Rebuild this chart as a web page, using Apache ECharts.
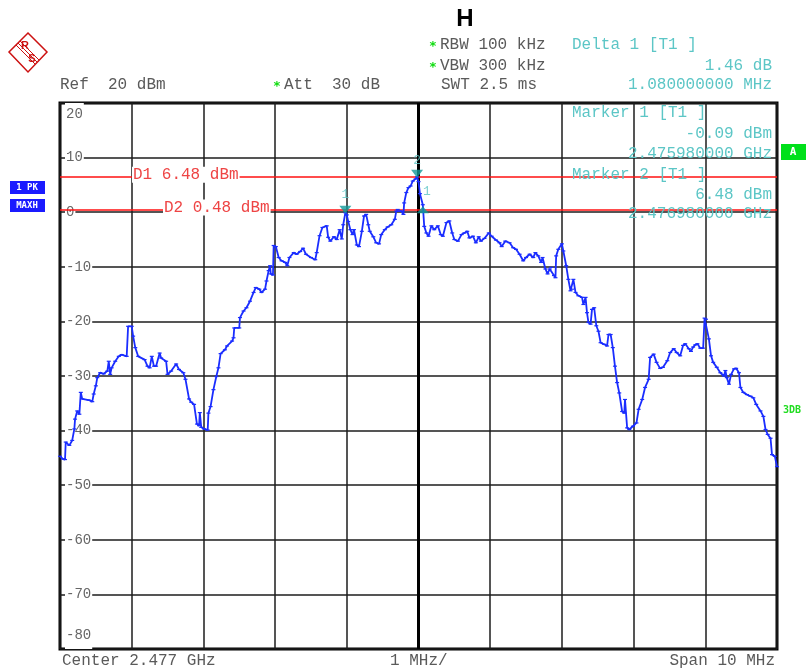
<!DOCTYPE html>
<html><head><meta charset="utf-8">
<script src="https://cdn.jsdelivr.net/npm/echarts@6/dist/echarts.min.js"></script>
<style>html,body{margin:0;padding:0;background:#fff}#c{width:810px;height:669px}</style>
</head><body><div id="c"></div>
<script>
// Frequency offset from centre (MHz), centre 2.477 GHz, span 10 MHz
const freqOffsetMHz = [
-5.00,-4.96,-4.93,-4.92,-4.87,-4.83,-4.80,-4.79,-4.76,-4.73,-4.71,-4.69,-4.60,-4.55,-4.53,-4.50,-4.48,-4.44,-4.39,-4.34,
-4.32,-4.30,-4.28,-4.23,-4.18,-4.14,-4.07,-4.05,-4.00,-3.98,-3.95,-3.91,-3.82,-3.78,-3.75,-3.72,-3.69,-3.66,-3.61,-3.59,
-3.52,-3.50,-3.45,-3.38,-3.34,-3.28,-3.25,-3.20,-3.17,-3.13,-3.09,-3.06,-3.05,-3.03,-2.99,-2.94,
-2.93,-2.90,-2.86,-2.82,-2.79,-2.76,-2.70,-2.67,-2.60,-2.58,-2.57,-2.50,-2.49,-2.44,-2.40,-2.35,-2.30,-2.27,-2.22,-2.19,
-2.14,-2.12,-2.09,-2.07,-2.06,-2.03,-2.02,-1.99,-1.95,-1.91,-1.86,-1.83,-1.80,-1.74,-1.70,-1.65,-1.61,-1.57,-1.50,-1.44,
-1.42,-1.38,-1.34,-1.28,-1.26,
-1.23,-1.18,-1.14,-1.10,-1.07,-1.05,-1.02,-1.00,-0.98,-0.95,-0.92,-0.90,-0.86,-0.83,-0.79,-0.76,-0.73,-0.70,-0.68,-0.63,
-0.59,-0.55,-0.52,-0.47,-0.43,-0.38,-0.33,-0.31,-0.29,-0.24,-0.21,-0.20,-0.17,-0.14,-0.11,-0.08,-0.04,-0.02,0.00,0.02,0.06,
0.08,0.11,0.14,0.18,0.22,0.27,0.31,0.34,0.39,0.43,0.47,0.50,0.55,0.60,0.64,0.68,0.71,0.76,0.80,0.84,
0.87,0.92,0.98,1.02,1.08,1.13,1.16,1.21,1.27,1.32,1.36,1.41,1.46,1.50,1.55,1.60,1.63,1.67,1.71,1.73,
1.77,1.80,1.83,1.85,1.89,
1.91,1.92,1.95,2.00,2.02,2.06,2.09,2.12,2.14,2.16,2.19,2.23,2.28,2.30,2.33,2.35,2.37,2.40,2.42,2.45,
2.48,2.51,2.54,2.59,2.63,2.65,2.68,2.71,2.74,2.77,2.80,2.84,2.87,2.88,2.91,2.94,2.99,
3.04,3.07,3.12,3.16,3.21,3.23,3.28,3.32,3.37,3.41,3.47,3.51,3.56,3.60,3.65,3.69,3.72,3.77,3.80,3.83,
3.86,3.89,3.93,3.97,3.99,4.01,4.05,4.08,4.11,4.16,4.21,4.26,4.28,4.30,4.33,4.36,4.40,4.43,4.47,4.49,
4.53,4.58,4.63,4.67,4.71,4.77,4.81,4.84,4.87,4.91,4.93,4.97,5.00
];
// Trace 1, max hold (dBm)
const levelDbm = [
-44.7,-45.2,-45.3,-42.1,-42.7,-41.8,-39.7,-37.9,-36.4,-37.0,-33.0,-34.2,-34.4,-34.7,-33.3,-31.8,-30.3,-29.4,-29.6,-29.1,
-27.3,-29.7,-28.5,-27.3,-26.4,-26.1,-26.4,-20.9,-20.9,-22.7,-24.8,-26.4,-27.0,-28.2,-28.5,-26.4,-28.2,-28.2,-25.8,-26.7,
-27.3,-29.7,-29.1,-27.8,-28.8,-29.4,-30.6,-34.2,-34.8,-35.2,-38.8,-39.1,-36.7,-39.4,-39.7,-39.9,
-36.8,-35.6,-32.5,-30.1,-28.5,-25.9,-25.2,-24.5,-23.6,-23.0,-21.2,-21.2,-19.3,-18.1,-17.5,-16.3,-14.7,-13.8,-14.1,-14.7,
-14.1,-12.6,-10.7,-9.8,-11.3,-11.5,-6.1,-6.3,-8.3,-8.9,-9.2,-9.8,-8.3,-7.4,-7.7,-7.2,-6.6,-7.7,-8.3,-8.7,
-7.4,-4.3,-2.8,-2.5,-4.6,
-5.3,-4.5,-5.0,-3.2,-4.9,-2.3,-0.09,-0.5,-1.7,-3.2,-4.1,-3.2,-6.0,-6.3,-3.5,-0.7,-0.4,-2.3,-3.5,-4.5,
-5.6,-5.8,-4.1,-3.2,-2.7,-2.3,-1.3,0.2,0.5,0.2,-0.4,1.7,3.6,4.5,4.8,5.7,6.1,6.48,5.6,3.4,1.37,
-2.6,-3.8,-4.4,-2.5,-3.2,-2.5,-4.1,-4.4,-1.9,-1.6,-3.8,-5.0,-5.3,-4.1,-3.8,-3.5,-4.7,-4.4,-5.6,-4.5,
-5.3,-4.8,-3.8,-4.4,-5.1,-5.6,-6.3,-5.3,-5.6,-6.5,-6.8,-7.7,-8.9,-8.3,-7.7,-8.3,-7.4,-8.0,-9.2,-8.3,
-10.4,-11.3,-10.4,-10.1,-11.6,
-12.0,-8.0,-6.8,-5.8,-7.1,-9.8,-12.3,-14.4,-14.1,-12.3,-14.7,-15.3,-15.6,-16.9,-15.6,-18.4,-20.2,-20.5,-17.8,-17.5,
-20.8,-21.8,-23.9,-24.2,-24.5,-22.4,-22.4,-24.8,-28.2,-31.2,-33.1,-36.5,-36.8,-34.3,-39.5,-39.8,-39.2,
-38.6,-36.1,-34.3,-32.1,-30.6,-26.6,-26.0,-27.5,-28.6,-28.4,-27.2,-25.7,-25.0,-25.7,-26.3,-24.4,-24.1,-25.0,-25.5,-24.7,
-24.3,-24.1,-24.9,-24.9,-19.4,-19.6,-23.2,-26.3,-27.5,-28.4,-29.4,-30.0,-29.0,-30.3,-31.5,-29.7,-28.7,-28.6,-29.4,-32.1,
-33.0,-33.4,-33.7,-34.0,-35.2,-36.4,-37.4,-39.8,-40.7,-41.4,-44.4,-44.7,-46.6
];
// Markers: [freq offset MHz, level dBm]
const marker1 = [-1.02, -0.09];
const marker2 = [-0.02, 6.48];
const delta1 = [0.06, 1.37];
// Display lines
const displayLines = [6.48, 0.48];
const displayLineNames = ['D1 6.48 dBm', 'D2 0.48 dBm'];

const MONO = '"Liberation Mono","DejaVu Sans Mono",monospace';
const GRAY = '#5a5a5a';
const TEAL = '#5cc6c6';
const TEALD = '#129a9a';

const chart = echarts.init(document.getElementById('c'), null, {renderer: 'canvas'});
const traceData = freqOffsetMHz.map((f, i) => [f, levelDbm[i]]);

chart.setOption({
  animation: false,
  backgroundColor: '#fff',
  grid: {left: 60, right: 33, top: 103, bottom: 20, show: true, borderColor: '#000', borderWidth: 3, backgroundColor: '#fff'},
  xAxis: {
    type: 'value', min: -5, max: 5, interval: 1,
    axisLine: {show: false}, axisTick: {show: false}, axisLabel: {show: false},
    splitLine: {show: true, lineStyle: {color: '#1c1c1c', width: 1.5}}
  },
  yAxis: {
    type: 'value', min: -80, max: 20, interval: 10,
    axisLine: {show: false}, axisTick: {show: false},
    splitLine: {show: true, lineStyle: {color: '#1c1c1c', width: 1.5}},
    axisLabel: {
      inside: true, margin: 5, color: '#666', fontFamily: MONO, fontSize: 14,
      backgroundColor: '#fff', padding: [0, 1, 0, 1],
      verticalAlignMaxLabel: 'top', verticalAlignMinLabel: 'bottom',
      formatter: v => v === 20 ? '{t|20}' : (v === -80 ? '{b|-80}' : String(v)),
      rich: {
        t: {padding: [4, 0, 0, 0], fontFamily: MONO, fontSize: 14, color: '#666'},
        b: {padding: [0, 0, 7, 0], fontFamily: MONO, fontSize: 14, color: '#666'}
      }
    }
  },
  series: [
    {
      type: 'line', data: traceData, showSymbol: true, symbol: 'rect', symbolSize: [4, 1.2],
      itemStyle: {color: '#1a2dff'}, lineStyle: {color: '#1a2dff', width: 1.8}, z: 5,
      markLine: {
        silent: true, symbol: 'none', animation: false,
        label: {show: false},
        data: [
          {xAxis: 0, lineStyle: {color: '#000', width: 3, type: 'solid'}},
          {yAxis: displayLines[0], lineStyle: {color: '#ff1010', width: 1.5, type: 'solid'}},
          {yAxis: displayLines[1], lineStyle: {color: '#ff1010', width: 1.5, type: 'solid'}}
        ]
      }
    },
    {
      type: 'scatter', data: [marker1], symbol: 'triangle', symbolRotate: 180, symbolSize: [12, 8], symbolOffset: [0, -3],
      itemStyle: {color: TEALD}, z: 6,
      label: {show: true, formatter: '1', position: 'top', distance: 5, color: TEAL, fontFamily: MONO, fontSize: 13}
    },
    {
      type: 'scatter', data: [marker2], symbol: 'triangle', symbolRotate: 180, symbolSize: [12, 8], symbolOffset: [0, -3],
      itemStyle: {color: TEALD}, z: 6,
      label: {show: true, formatter: '2', position: 'top', distance: 3, color: TEAL, fontFamily: MONO, fontSize: 13}
    },
    {
      type: 'scatter', data: [delta1], symbol: 'triangle', symbolSize: [12, 7], symbolOffset: [0, 5],
      itemStyle: {color: TEALD}, z: 6,
      label: {show: true, formatter: '1', position: 'top', distance: 4, offset: [4, -4], color: TEAL, fontFamily: MONO, fontSize: 13}
    }
  ]
});

function txt(x, y, s, opt) {
  opt = opt || {};
  return {
    type: 'text', x: x, y: y, z: 50,
    style: Object.assign({text: s, fill: GRAY, font: '16px ' + MONO, textAlign: 'left', textVerticalAlign: 'middle'}, opt)
  };
}
const star = (x, y) => txt(x, y, '*', {fill: '#11dd11', font: 'bold 13px "DejaVu Sans", sans-serif', textAlign: 'center'});

const g = [];
// title
g.push(txt(465, 19, 'H', {fill: '#000', font: 'bold 24px "Liberation Sans", Arial, sans-serif', textAlign: 'center'}));
// R&S logo
g.push({type: 'polygon', z: 50, shape: {points: [[28, 33], [47, 52], [28, 72], [9, 52]]}, style: {fill: 'none', stroke: '#cc1111', lineWidth: 1.5}});
g.push({type: 'polyline', z: 50, shape: {points: [[18, 43], [37, 62]]}, style: {stroke: '#cc1111', lineWidth: 1}});
g.push({type: 'polyline', z: 50, shape: {points: [[20, 41], [39, 60]]}, style: {stroke: '#cc1111', lineWidth: 1}});
g.push({type: 'polyline', z: 50, shape: {points: [[16, 45], [35, 64]]}, style: {stroke: '#cc1111', lineWidth: 1}});
g.push(txt(25, 46, 'R', {fill: '#cc1111', font: 'bold 11px "Liberation Sans", sans-serif', textAlign: 'center'}));
g.push(txt(32, 59, 'S', {fill: '#cc1111', font: 'bold 11px "Liberation Sans", sans-serif', textAlign: 'center'}));
// header
g.push(star(433, 47)); g.push(txt(440, 45, 'RBW 100 kHz'));
g.push(star(433, 68)); g.push(txt(440, 66, 'VBW 300 kHz'));
g.push(txt(60, 85, 'Ref  20 dBm'));
g.push(star(277, 87)); g.push(txt(284, 85, 'Att  30 dB'));
g.push(txt(441, 85, 'SWT 2.5 ms'));
g.push(txt(572, 45, 'Delta 1 [T1 ]', {fill: TEAL}));
g.push(txt(772, 66, '1.46 dB', {fill: TEAL, textAlign: 'right'}));
g.push(txt(772, 85, '1.080000000 MHz', {fill: TEAL, textAlign: 'right'}));
// marker info inside plot
g.push(txt(572, 113, 'Marker 1 [T1 ]', {fill: TEAL}));
g.push(txt(772, 134, '-0.09 dBm', {fill: TEAL, textAlign: 'right'}));
g.push(txt(772, 154, '2.475980000 GHz', {fill: TEAL, textAlign: 'right'}));
g.push(txt(572, 175, 'Marker 2 [T1 ]', {fill: TEAL}));
g.push(txt(772, 195, '6.48 dBm', {fill: TEAL, textAlign: 'right'}));
g.push(txt(772, 214, '2.476980000 GHz', {fill: TEAL, textAlign: 'right'}));
// display line labels
const yD1 = chart.convertToPixel({gridIndex: 0}, [0, displayLines[0]])[1];
const yD2 = chart.convertToPixel({gridIndex: 0}, [0, displayLines[1]])[1];
g.push(txt(132, yD1 - 2, displayLineNames[0], {fill: '#ee4444', backgroundColor: '#fff', padding: [0, 1]}));
g.push(txt(163, yD2 - 2, displayLineNames[1], {fill: '#ee4444', backgroundColor: '#fff', padding: [0, 1]}));
// side boxes
g.push({type: 'rect', z: 50, shape: {x: 10, y: 181, width: 35, height: 13}, style: {fill: '#1a1aff'}});
g.push(txt(27, 188, '1 PK', {fill: '#fff', font: 'bold 9px "DejaVu Sans Mono", monospace', textAlign: 'center'}));
g.push({type: 'rect', z: 50, shape: {x: 10, y: 199, width: 35, height: 13}, style: {fill: '#1a1aff'}});
g.push(txt(27, 206, 'MAXH', {fill: '#fff', font: 'bold 9px "DejaVu Sans Mono", monospace', textAlign: 'center'}));
g.push({type: 'rect', z: 50, shape: {x: 781, y: 144, width: 25, height: 16}, style: {fill: '#00e01a'}});
g.push(txt(793, 152, 'A', {fill: '#fff', font: 'bold 11px "DejaVu Sans Mono", monospace', textAlign: 'center'}));
g.push(txt(783, 410, '3DB', {fill: '#22dd22', font: 'bold 10px "DejaVu Sans Mono", monospace'}));
// footer
g.push(txt(62, 661, 'Center 2.477 GHz'));
g.push(txt(390, 661, '1 MHz/'));
g.push(txt(775, 661, 'Span 10 MHz', {textAlign: 'right'}));

chart.setOption({graphic: {elements: g}});
</script></body></html>
